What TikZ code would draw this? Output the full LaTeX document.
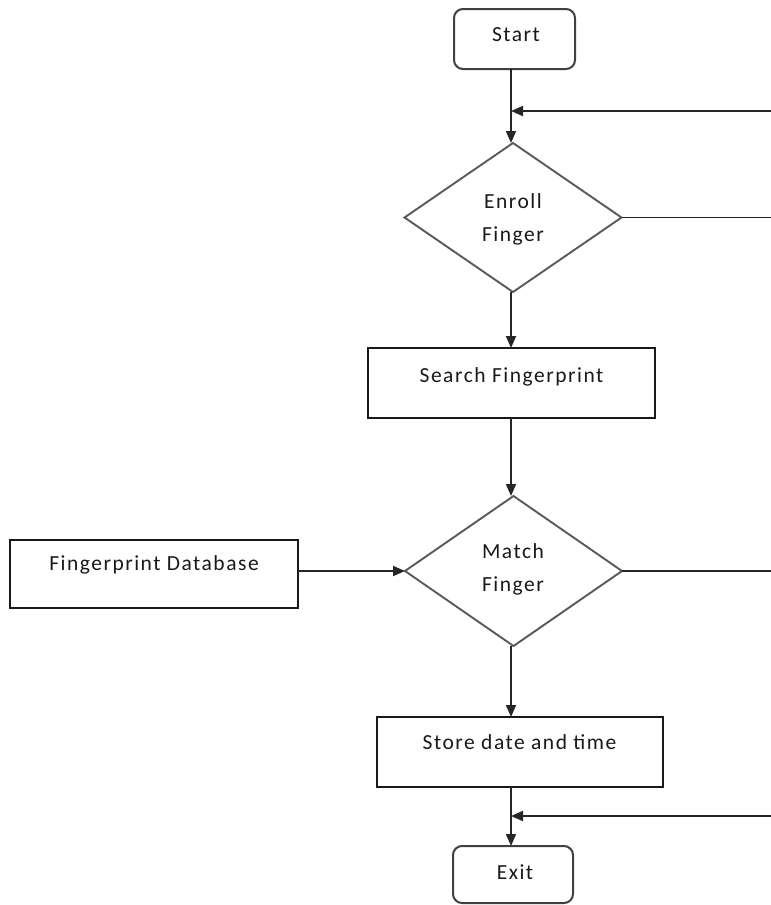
\documentclass[tikz,border=0pt]{standalone}
\usepackage{fontspec}
\setmainfont{Carlito}[LetterSpace=7]
\usetikzlibrary{shapes.geometric,arrows.meta}
\begin{document}
\begin{tikzpicture}[x=1pt,y=-1pt,
  every node/.style={inner sep=0pt,outer sep=0pt},
  lbl/.style={font=\fontsize{21.5}{33}\selectfont, text=black!90, align=center},
  terminal/.style={draw=black!75, line width=2pt, rounded corners=9pt, minimum width=121pt, minimum height=60pt},
  process/.style={draw=black!90, line width=2pt, minimum height=70pt},
  decision/.style={draw=black!65, line width=1.9pt, diamond, aspect=1.46, minimum width=217pt, minimum height=149pt},
  link/.style={draw=black!85, line width=1.8pt},
  flow/.style={link, -{Triangle[length=12pt,width=10pt]}}
]
\useasboundingbox (0,0) rectangle (771,905);

% terminals
\node[terminal] (start) at (514.5,39) {};
\node[lbl] (startT) at (516,35) {Start};
\node[terminal, minimum width=120pt, minimum height=57pt] (exit) at (513,874.5) {};
\node[lbl] (exitT) at (515,872) {Exit};

% decisions
\node[decision] (enroll) at (513,217.5) {};
\node[lbl] (enrollT) at (513,219.5) {Enroll\\Finger};
\node[decision, minimum height=150pt] (match) at (513.5,571) {};
\node[lbl] (matchT) at (513,569.5) {Match\\Finger};

% processes
\node[process, minimum width=287pt] (search) at (511.5,383) {};
\node[lbl] (searchT) at (511.5,377) {Search Fingerprint};
\node[process, minimum width=288pt, minimum height=68pt] (db) at (154,574) {};
\node[lbl] (dbT) at (154,565) {Fingerprint Database};
\node[process, minimum width=286pt] (store) at (520,752) {};
\node[lbl] (storeT) at (519.5,742) {Store date and time};

% junction points on the main line and the right-hand returns
\coordinate (j1) at (511,111);
\coordinate (r1) at (771,111);
\coordinate (j2) at (511,816);
\coordinate (r2) at (771,816);
\coordinate (e1) at (771,217.5);
\coordinate (e2) at (771,571);

% main flow
\draw[flow] (start.south -| j1) -- (enroll.north -| j1);
\draw[flow] (enroll.south -| j1) -- (search.north -| j1);
\draw[flow] (search.south -| j1) -- (match.north -| j1);
\draw[flow] (match.south -| j1) -- (store.north -| j1);
\draw[flow] (store.south -| j1) -- (exit.north -| j1);
\draw[flow] (db.east |- match.west) -- (match.west);

% branches leaving to the right and returns entering from the right
\draw[link] (enroll.east) -- (e1);
\draw[link] (match.east) -- (e2);
\draw[flow] (r1) -- (j1);
\draw[flow] (r2) -- (j2);
\end{tikzpicture}
\end{document}
